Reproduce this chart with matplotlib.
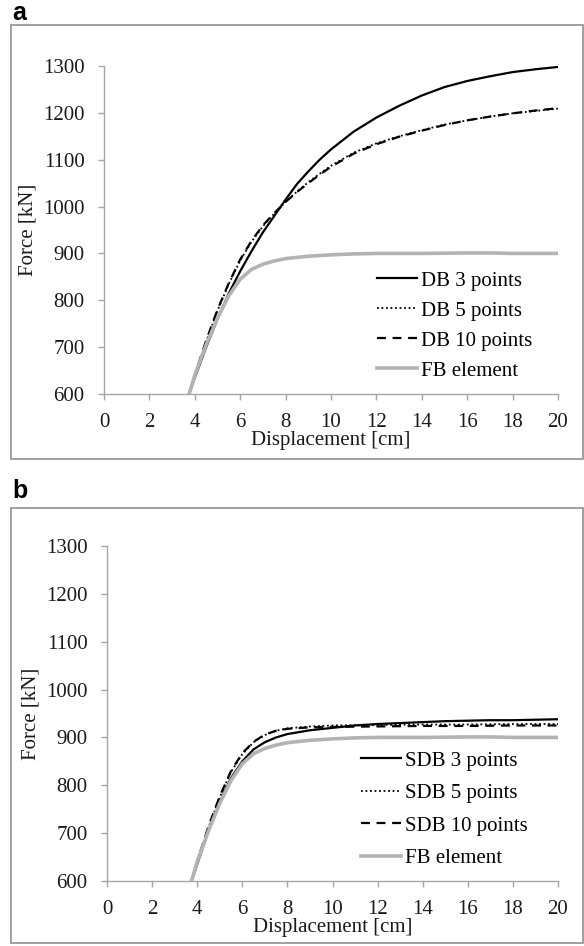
import matplotlib
matplotlib.use("Agg")
import matplotlib.pyplot as plt
from matplotlib.patches import Rectangle

# displacement [cm] / force [kN] readings
x_db3 = [3.75, 4.0, 4.5, 5.0, 5.5, 6.0, 6.5, 7.0, 7.5, 8.0, 8.5, 9.0, 9.5, 10, 11, 12, 13, 14, 15, 16, 17, 18, 19, 20]
f_db3 = [600, 635, 700, 760, 815, 862, 905, 945, 980, 1015, 1048, 1075, 1100, 1122, 1160, 1190, 1215, 1237, 1255, 1268, 1278, 1287, 1293, 1298]

x_db5 = [3.75, 4.0, 4.5, 5.0, 5.5, 6.0, 6.5, 7.0, 7.5, 8.0, 8.5, 9.0, 9.5, 10, 11, 12, 13, 14, 15, 16, 17, 18, 19, 20]
f_db5 = [600, 640, 712, 778, 835, 885, 925, 958, 985, 1010, 1032, 1052, 1070, 1087, 1115, 1135, 1150, 1163, 1175, 1184, 1192, 1199, 1204, 1209]

x_db10 = [3.75, 4.0, 4.5, 5.0, 5.5, 6.0, 6.5, 7.0, 7.5, 8.0, 8.5, 9.0, 9.5, 10, 11, 12, 13, 14, 15, 16, 17, 18, 19, 20]
f_db10 = [600, 641, 714, 780, 837, 887, 927, 960, 986, 1010, 1031, 1050, 1068, 1085, 1113, 1133, 1149, 1162, 1174, 1184, 1192, 1199, 1205, 1210]

x_fb = [3.75, 4.0, 4.5, 5.0, 5.5, 6.0, 6.5, 7.0, 7.5, 8.0, 9.0, 10, 11, 12, 14, 16, 17, 18, 20]
f_fb = [600, 640, 705, 762, 810, 845, 866, 877, 884, 889, 894, 897, 899, 900, 900, 901, 901, 900, 900]

x_sdb3 = [3.75, 4.0, 4.5, 5.0, 5.5, 6.0, 6.5, 7.0, 7.5, 8.0, 9.0, 10, 11, 12, 13, 14, 15, 16, 17, 18, 19, 20]
f_sdb3 = [600, 635, 705, 765, 815, 850, 875, 890, 900, 907, 915, 920, 925, 928, 930, 932, 934, 935, 936, 936, 937, 938]

x_sdb5 = [3.75, 4.0, 4.5, 5.0, 5.5, 6.0, 6.5, 7.0, 7.5, 8.0, 9.0, 10, 12, 14, 16, 18, 20]
f_sdb5 = [600, 640, 712, 775, 828, 865, 890, 905, 914, 919, 923, 925, 926, 927, 927, 928, 928]

x_sdb10 = [3.75, 4.0, 4.5, 5.0, 5.5, 6.0, 6.5, 7.0, 7.5, 8.0, 9.0, 10, 12, 14, 16, 18, 20]
f_sdb10 = [600, 641, 714, 777, 830, 867, 891, 906, 914, 918, 921, 922, 923, 924, 924, 925, 925]

x_ticks = [0, 2, 4, 6, 8, 10, 12, 14, 16, 18, 20]
y_ticks = [600, 700, 800, 900, 1000, 1100, 1200, 1300]

plt.rcParams['font.family'] = ['Liberation Serif', 'DejaVu Serif']
axis_grey = '#a6a6a6'
fb_grey = '#b3b3b3'

fig = plt.figure(figsize=(5.84, 9.46), dpi=100)


def setup_axes(ax):
    ax.set_xlim(0, 20)
    ax.set_ylim(600, 1300)
    ax.set_xticks(x_ticks)
    ax.set_yticks(y_ticks)
    for side in ['top', 'right']:
        ax.spines[side].set_visible(False)
    for side in ['left', 'bottom']:
        ax.spines[side].set_color(axis_grey)
        ax.spines[side].set_linewidth(1.0)
    ax.tick_params(direction='out', length=4, width=1.0, color=axis_grey,
                   labelsize=15, labelcolor='#1a1a1a')
    ax.tick_params(axis='y', pad=10)
    ax.tick_params(axis='x', pad=10)
    ax.set_xlabel('Displacement [cm]', fontsize=15, labelpad=-1, color='#1a1a1a')
    ax.set_ylabel('Force [kN]', fontsize=15, labelpad=4, color='#1a1a1a')


def add_legend(ax, names, anchor, spacing):
    ax.legend(names, loc='upper left', bbox_to_anchor=anchor,
              bbox_transform=fig.transFigure, frameon=False, fontsize=15,
              handlelength=1.9, handletextpad=0.2, labelspacing=spacing,
              borderpad=0, borderaxespad=0)


# panel a
ax1 = fig.add_axes([104 / 584, 1 - 394 / 946, 454 / 584, 328 / 946])
ax1.plot(x_db3, f_db3, color='black', lw=1.6)
ax1.plot(x_db5, f_db5, color='black', lw=1.3, ls=(0, (1, 1.5)))
ax1.plot(x_db10, f_db10, color='black', lw=1.6, ls=(0, (4, 3)))
ax1.plot(x_fb, f_fb, color=fb_grey, lw=2.6)
setup_axes(ax1)
add_legend(ax1, ['DB 3 points', 'DB 5 points', 'DB 10 points', 'FB element'],
           (377 / 584, 1 - 271 / 946), 0.5)

# panel b
ax2 = fig.add_axes([107 / 584, 1 - 881 / 946, 451 / 584, 335 / 946])
ax2.plot(x_sdb3, f_sdb3, color='black', lw=1.6)
ax2.plot(x_sdb5, f_sdb5, color='black', lw=1.3, ls=(0, (1, 1.5)))
ax2.plot(x_sdb10, f_sdb10, color='black', lw=1.6, ls=(0, (4, 3)))
ax2.plot(x_fb, f_fb, color=fb_grey, lw=2.6)
setup_axes(ax2)
add_legend(ax2, ['SDB 3 points', 'SDB 5 points', 'SDB 10 points', 'FB element'],
           (361 / 584, 1 - 751 / 946), 0.62)

# panel frames and letters
for top, bottom in [(25, 459), (508, 943)]:
    fig.add_artist(Rectangle((11 / 584, 1 - bottom / 946), 572 / 584, (bottom - top) / 946,
                             transform=fig.transFigure, fill=False,
                             edgecolor='#9a9a9a', linewidth=1.3))
fig.text(12 / 584, 1 - 13 / 946, 'a', family='Liberation Sans', weight='bold',
         fontsize=18, va='center', ha='left')
fig.text(12 / 584, 1 - 491 / 946, 'b', family='Liberation Sans', weight='bold',
         fontsize=18, va='center', ha='left')

fig.savefig('out.png', dpi=100)
